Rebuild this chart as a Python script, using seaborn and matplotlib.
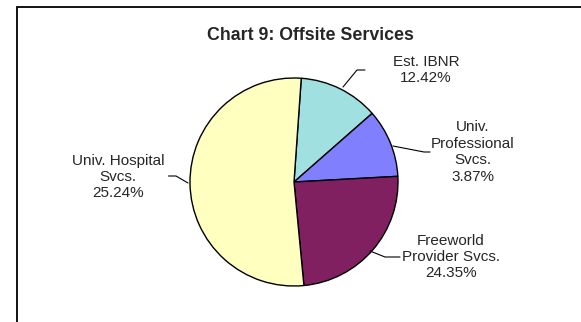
import matplotlib
matplotlib.use("Agg")
import matplotlib.pyplot as plt
from matplotlib.patches import Rectangle
import seaborn as sns

# Offsite services breakdown
categories = ["Est. IBNR", "Univ. Professional Svcs.", "Freeworld Provider Svcs.", "Univ. Hospital Svcs."]
shares = [12.42, 10.6, 24.35, 52.63]
label_texts = ["Est. IBNR\n12.42%",
               "Univ.\nProfessional\nSvcs.\n3.87%",
               "Freeworld\nProvider Svcs.\n24.35%",
               "Univ. Hospital\nSvcs.\n25.24%"]
colors = ["#A0E0E0", "#8080FF", "#802060", "#FFFFC0"]

sns.set_style("white")
plt.rcParams["font.family"] = ["Liberation Sans", "DejaVu Sans"]

W, H = 581, 322
fig = plt.figure(figsize=(W / 100, H / 100), dpi=100)
ax = fig.add_axes([0, 0, 1, 1])

cx, cy, r = 294, H - 182, 104
ax.pie(shares, colors=colors, startangle=86, counterclock=False,
       center=(cx, cy), radius=r,
       wedgeprops=dict(edgecolor="black", linewidth=1.0))
ax.set_xlim(0, W)
ax.set_ylim(0, H)
ax.set_aspect("equal")
ax.axis("off")

# outer chart frame
ax.add_patch(Rectangle((17, -20), 700, H - 6.5 + 20, fill=False,
                       edgecolor="black", linewidth=1.3, clip_on=False))

ax.text(310, H - 35, "Chart 9: Offsite Services", ha="center", va="center",
        fontsize=12.8, fontweight="bold")

fs = 11
label_pos = [(426, 70), (473, 152), (451, 257), (118, 177)]
for txt, (x, y) in zip(label_texts, label_pos):
    ax.text(x, H - y, txt, ha="center", va="center", fontsize=fs,
            linespacing=1.22)

# leader lines from labels to wedges
leaders = [
    [(365, 70), (357, 70), (343, 87)],
    [(393, 146), (424, 152), (430, 152)],
    [(168.5, 176), (176, 176), (188, 183)],
    [(370, 251), (385, 257), (400, 257)],
]
for pts in leaders:
    xs = [p[0] for p in pts]
    ys = [H - p[1] for p in pts]
    ax.plot(xs, ys, color="black", linewidth=0.8)

fig.savefig("out.png", dpi=100)
